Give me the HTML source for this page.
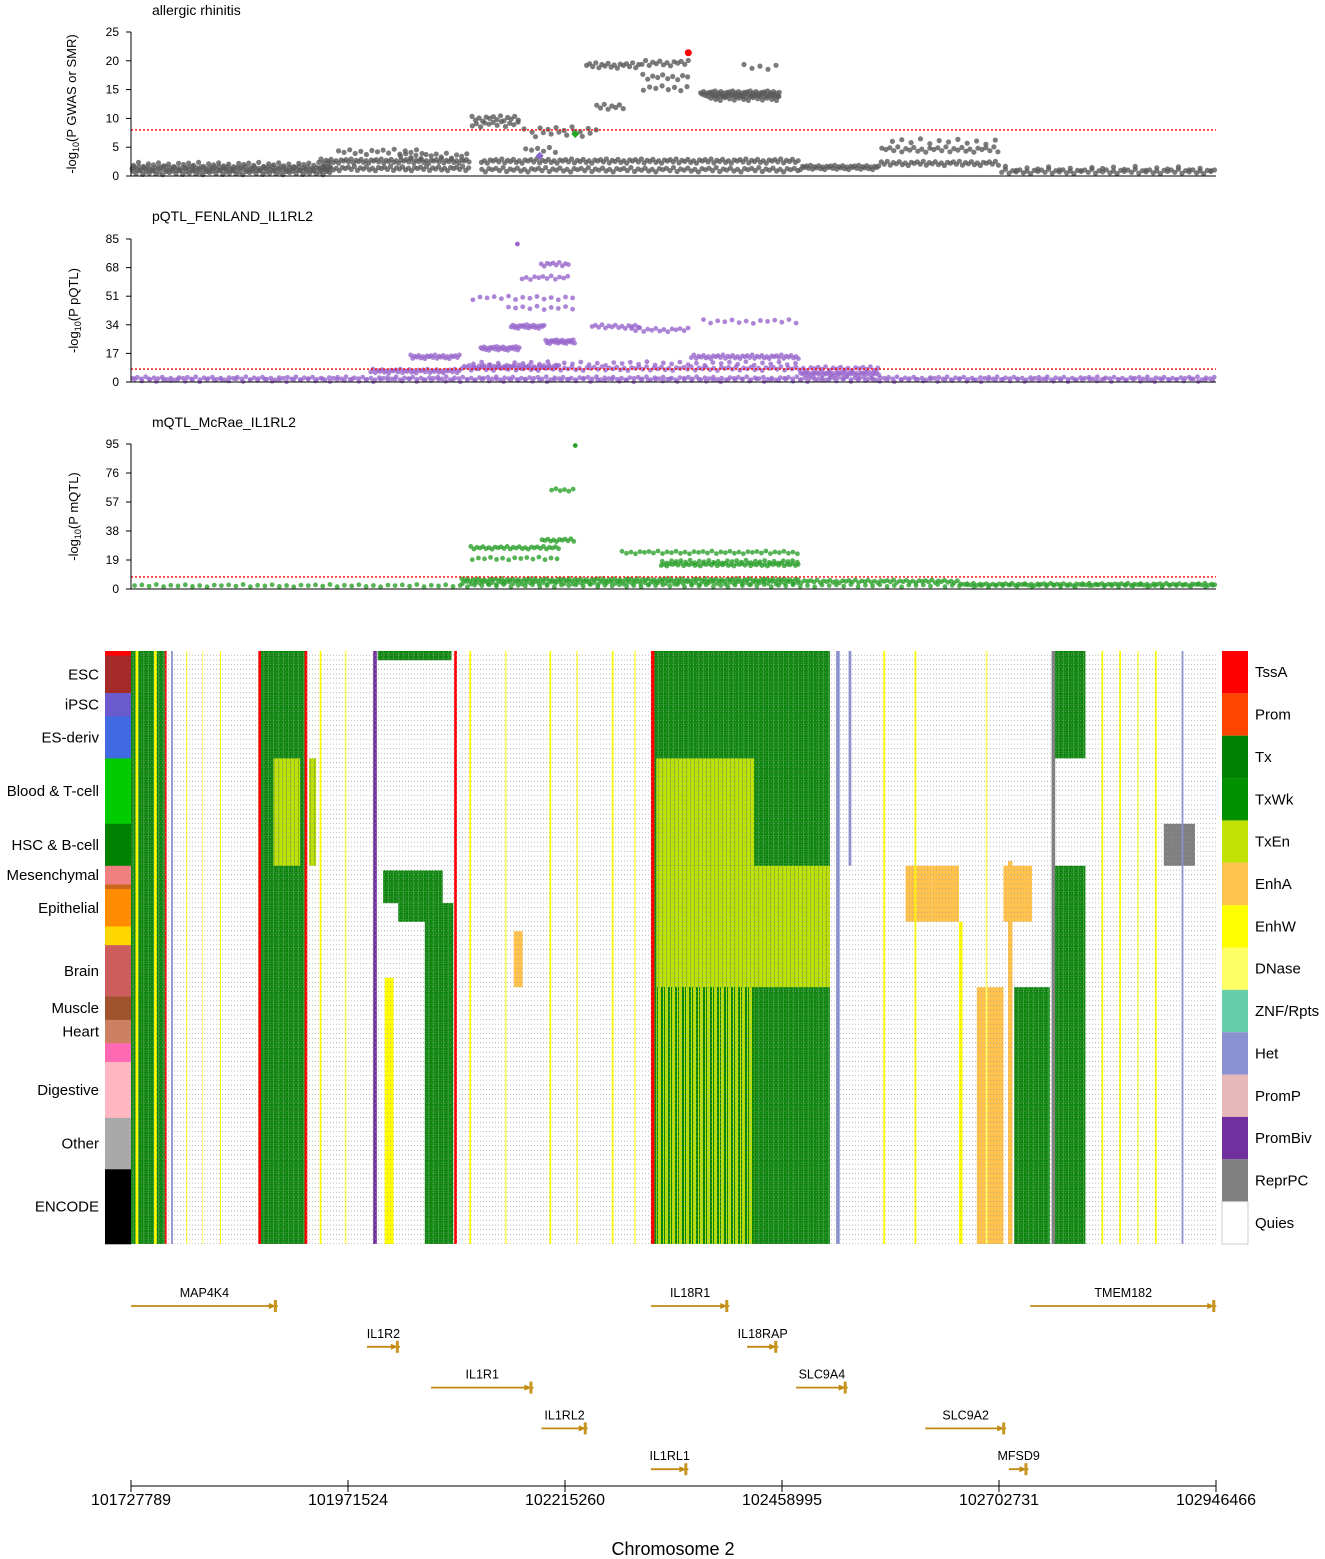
<!DOCTYPE html>
<html><head><meta charset="utf-8"><style>
body{margin:0;background:#fff;}
svg{display:block;font-family:"Liberation Sans",sans-serif;}
</style></head><body>
<svg id="chart" width="1325" height="1559" viewBox="0 0 1325 1559" xmlns="http://www.w3.org/2000/svg">
<defs>
<pattern id="rowdots" x="0" y="651" width="3" height="4.67" patternUnits="userSpaceOnUse">
<rect x="0" y="4" width="1" height="0.7" fill="#9a9a9a"/>
</pattern>
<pattern id="txtex" x="0" y="0" width="5" height="4.67" patternUnits="userSpaceOnUse">
<rect width="5" height="4.67" fill="#0a860a"/>
<rect x="3" width="1" height="4.67" fill="#2f9e2f"/>
<rect y="3.9" width="5" height="0.77" fill="#3b8f3b"/>
</pattern>
<pattern id="txentex" x="0" y="0" width="4" height="4.67" patternUnits="userSpaceOnUse">
<rect width="4" height="4.67" fill="#c2e105"/>
<rect x="2" width="1" height="4.67" fill="#8fc01a"/>
</pattern>
<pattern id="mixtex" x="0" y="0" width="7" height="4.67" patternUnits="userSpaceOnUse">
<rect width="7" height="4.67" fill="#0a860a"/>
<rect x="0" width="3" height="4.67" fill="#b8dc10"/>
<rect x="5" width="1" height="4.67" fill="#c2e105"/>
</pattern>
</defs>
<g id="plots"></g>
</svg>
<script>
// ---------- data ----------
const regionStart = 101727789, regionEnd = 102946466; // bp
const xTickPos = [101727789,101971524,102215260,102458995,102702731,102946466];

// scatter runs: [startKb, endKb, value, count] (kb offset from regionStart)
const gwasRuns = [[0,225,1.3,90],[0,225,0.6,60],[0,225,2.0,40],[212,381,2.6,60],[212,381,1.3,50],[230,330,4.2,16],[300,380,3.5,14],
[381,437,10.0,14],[381,437,9.0,12],[437,527,8.1,10],[450,520,7.3,8],[440,480,4.5,6],[510,572,19.2,18],[521,555,12.0,8],[572,628,19.6,14],[572,628,17.2,10],[572,628,15.3,8],
[639,729,14.3,55],[650,729,13.6,30],[684,729,19.0,5],[392,751,2.6,110],[392,751,1.1,90],[751,841,1.5,40],[841,976,4.6,30],[850,976,6.0,12],[841,976,2.2,40],[976,1219,0.8,60],[976,1219,1.3,20]];
const gwasLead = [626, 21.4];
const gwasSnp2 = [499, 7.3];
const gwasSnp3 = [459, 3.5];
const gwasThresh = 8.0;

const pqtlRuns = [[0,1219,2.2,260],[0,1219,1.0,150],[268,370,6.5,40],[313,370,15,25],[370,482,9,40],[392,437,20,25],[426,465,33,20],[465,499,24,22],
[437,493,62,12],[459,493,70,10],[380,500,50,15],[420,500,44,10],[516,572,33,15],[560,628,31,15],[628,751,15,45],[639,751,36,14],[380,841,8,110],[751,841,5,40],[380,751,11,40]];
const pqtlTop = [434, 82];
const pqtlThresh = 7.7;

const mqtlRuns = [[0,1219,2.2,150],[370,751,6,120],[370,751,4,80],[380,482,27,30],[380,482,20,15],[460,499,32,12],[470,499,65,6],[549,751,24,40],[594,751,16,50],[594,751,18,30],[751,930,5,50],[930,1219,3,80]];
const mqtlTop = [499, 94];
const mqtlThresh = 7.9;

// heatmap bands: [startKb, endKb, rowStart, rowEnd, state]
const hmBands = [
[0,38,0,127,'Tx'],[5,8,0,127,'EnhW'],[26,29,0,127,'EnhW'],[38,40,0,127,'TssA'],[45,47,0,127,'Het'],[62,63,0,127,'EnhW'],[80,81,0,127,'DNase'],[100,101,0,127,'EnhW'],
[143,146,0,127,'TssA'],[146,195,0,127,'Tx'],[160,190,23,46,'TxEn'],[195,198,0,127,'TssA'],[200,208,23,46,'TxEn'],[212,214,0,127,'EnhW'],[240,242,0,127,'DNase'],
[272,276,0,127,'PromBiv'],[277,360,0,2,'Tx'],[283,350,47,54,'Tx'],[300,340,54,58,'Tx'],[330,362,54,127,'Tx'],[285,295,70,127,'EnhW'],[363,366,0,127,'TssA'],
[380,382,0,127,'EnhW'],[420,422,0,127,'DNase'],[430,440,60,72,'EnhA'],[470,472,0,127,'EnhW'],[500,502,0,127,'DNase'],[540,542,0,127,'EnhW'],[565,567,0,127,'DNase'],
[584,588,0,127,'TssA'],[588,785,0,127,'Tx'],[590,700,23,46,'TxEn'],[590,785,46,72,'TxEn'],[590,700,72,127,'Mix'],
[792,796,0,127,'Het'],[806,809,0,46,'Het'],[845,847,0,127,'EnhW'],[870,900,46,58,'EnhA'],[880,882,0,127,'EnhW'],[900,930,46,58,'EnhA'],[930,934,58,127,'EnhW'],[950,980,72,127,'EnhA'],[960,962,0,127,'DNase'],
[985,990,45,127,'EnhA'],[992,1032,72,127,'Tx'],[980,1012,46,58,'EnhA'],[1034,1038,0,127,'ReprPC'],[1038,1072,46,127,'Tx'],[1038,1072,0,23,'Tx'],
[1090,1092,0,127,'EnhW'],[1110,1112,0,127,'EnhW'],[1130,1132,0,127,'DNase'],[1160,1195,37,46,'ReprPC'],[1150,1152,0,127,'EnhW'],[1180,1182,0,127,'Het']];

const stateNames = ['TssA','Prom','Tx','TxWk','TxEn','EnhA','EnhW','DNase','ZNF/Rpts','Het','PromP','PromBiv','ReprPC','Quies'];
const stateColors = ['#ff0000','#ff4500','#008000','#009000','#c2e105','#ffc34d','#ffff00','#ffff66','#66cdaa','#8a91d0','#e6b8b7','#7030a0','#808080','#ffffff'];

const groupNames = ['','ESC','iPSC','ES-deriv','Blood & T-cell','HSC & B-cell','Mesenchymal','','Epithelial','','Brain','Muscle','Heart','','Digestive','Other','ENCODE'];
const groupRows = [[0,1],[1,9],[9,14],[14,23],[23,37],[37,46],[46,50],[50,51],[51,59],[59,63],[63,74],[74,79],[79,84],[84,88],[88,100],[100,111],[111,127]];
const groupColors = ['#ff0000','#a52a2a','#6a5acd','#4169e1','#00cc00','#008000','#f08080','#cd661d','#ff8c00','#ffd700','#cd5c5c','#a0522d','#cd8162','#ff69b4','#ffb6c1','#a9a9a9','#000000'];

// genes: name, startKb, endKb, row
const geneNames = ['MAP4K4','IL18R1','TMEM182','IL1R2','IL18RAP','IL1R1','SLC9A4','IL1RL2','SLC9A2','IL1RL1','MFSD9'];
const geneStart = [0,584,1010,265,692,337,747,461,892,584,986];
const geneEnd = [165,672,1219,302,727,452,805,513,983,626,1008];
const geneRow = [0,0,0,1,1,2,2,3,3,4,4];

// ---------- helpers ----------
const NS='http://www.w3.org/2000/svg';
const root=document.getElementById('plots');
const X0=131, X1=1216;
const spanKb=(regionEnd-regionStart)/1000;
function xKb(kb){return X0+kb/spanKb*(X1-X0);}
function xBp(bp){return X0+(bp-regionStart)/(regionEnd-regionStart)*(X1-X0);}
function mk(tag,attrs,parent){const e=document.createElementNS(NS,tag);for(const k in attrs)e.setAttribute(k,attrs[k]);(parent||root).appendChild(e);return e;}
const jit=[0.0,0.6,-0.4,0.9,-0.8,0.3,-0.2,0.7,-0.6,0.15,-0.95,0.45];

function panel(cfg){
  const g=mk('g',{});
  
  
  const y=v=>cfg.y0-(v/cfg.max)*(cfg.y0-cfg.yTop);
  const t=mk('text',{x:152,y:cfg.titleY,'font-size':14,fill:'#000'},g);t.textContent=cfg.title;
  
  const yt=mk('text',{x:0,y:0,'font-size':13,'text-anchor':'middle',transform:`translate(${cfg.labelX},${(cfg.y0+cfg.yTop)/2}) rotate(-90)`},g);
  yt.innerHTML=cfg.ylab;
  
  const pg=mk('g',{fill:cfg.color,'fill-opacity':0.8},g);
  
  cfg.runs.forEach((r,ri)=>{
    const n=r[3];
    for(let i=0;i<n;i++){
      const kb=r[0]+(r[1]-r[0])*((i+0.5)/n);
      const v=Math.max(0.1,r[2]+jit[(i+ri)%jit.length]*cfg.spread*(r[2]>3?1:0.8));
      mk('circle',{cx:xKb(kb).toFixed(1),cy:y(v).toFixed(1),r:cfg.r},pg);
    }
  });
  if(cfg.top){mk('circle',{cx:xKb(cfg.top[0]),cy:y(cfg.top[1]),r:cfg.r,fill:cfg.color},g);}
  const th=mk('line',{x1:X0,x2:X1,y1:y(cfg.thresh),y2:y(cfg.thresh),stroke:'#ff0000','stroke-width':1.3,'stroke-dasharray':'2,2'},g);
  
  mk('line',{x1:X0,x2:X0,y1:cfg.yTop,y2:cfg.y0,stroke:'#000'},g);
  mk('line',{x1:X0,x2:X1,y1:cfg.y0,y2:cfg.y0,stroke:'#000'},g);
  cfg.ticks.forEach(tv=>{
    mk('line',{x1:X0-5,x2:X0,y1:y(tv),y2:y(tv),stroke:'#000'},g);
    const tl=mk('text',{x:X0-12,y:y(tv)+4,'font-size':12,'text-anchor':'end'},g);tl.textContent=tv;
    
  });
  return {g,y};
}

const p1=panel({name:'gwas-panel',title:'allergic rhinitis',titleY:15,y0:176,yTop:32,max:25,ticks:[0,5,10,15,20,25],labelX:76,
  ylab:'-log<tspan font-size="9" dy="3">10</tspan><tspan dy="-3">(P GWAS or SMR)</tspan>',runs:gwasRuns,color:'#5a5a5a',r:2.6,spread:0.5,thresh:gwasThresh});
{
  const c=mk('circle',{cx:xKb(gwasLead[0]),cy:p1.y(gwasLead[1]),r:3.5,fill:'#ff0000'},p1.g);
  
  const d1x=xKb(gwasSnp2[0]),d1y=p1.y(gwasSnp2[1]);
  const d1=mk('polygon',{points:`${d1x},${d1y-4} ${d1x+4},${d1y} ${d1x},${d1y+4} ${d1x-4},${d1y}`,fill:'#22aa22'},p1.g);
  
  const d2x=xKb(gwasSnp3[0]),d2y=p1.y(gwasSnp3[1]);
  const d2=mk('polygon',{points:`${d2x},${d2y-4} ${d2x+4},${d2y} ${d2x},${d2y+4} ${d2x-4},${d2y}`,fill:'#8866cc'},p1.g);
  
}
panel({name:'pqtl-panel',title:'pQTL_FENLAND_IL1RL2',titleY:221,y0:382,yTop:239,max:85,ticks:[0,17,34,51,68,85],labelX:78,
  ylab:'-log<tspan font-size="9" dy="3">10</tspan><tspan dy="-3">(P pQTL)</tspan>',runs:pqtlRuns,color:'#9966cc',r:2.4,spread:1.2,thresh:pqtlThresh,top:pqtlTop});
panel({name:'mqtl-panel',title:'mQTL_McRae_IL1RL2',titleY:427,y0:589,yTop:444,max:95,ticks:[0,19,38,57,76,95],labelX:78,
  ylab:'-log<tspan font-size="9" dy="3">10</tspan><tspan dy="-3">(P mQTL)</tspan>',runs:mqtlRuns,color:'#2ca02c',r:2.4,spread:1.0,thresh:mqtlThresh,top:mqtlTop});

// ---------- heatmap ----------
const HY0=651, RH=593/127;
const hm=mk('g',{});


mk('rect',{x:X0,y:HY0,width:X1-X0,height:593,fill:'#fff'},hm);
hmBands.forEach(b=>{
  const si=stateNames.indexOf(b[4]);
  let fill=stateColors[si];
  if(b[4]==='Tx')fill='url(#txtex)';
  if(b[4]==='TxEn')fill='url(#txentex)';
  if(b[4]==='Mix')fill='url(#mixtex)';
  const r=mk('rect',{x:xKb(b[0]).toFixed(1),y:(HY0+b[2]*RH).toFixed(1),width:Math.max(1,xKb(b[1])-xKb(b[0])).toFixed(1),height:((b[3]-b[2])*RH).toFixed(1),fill:fill},hm);
  
  
});
mk('rect',{x:X0,y:HY0,width:X1-X0,height:593,fill:'url(#rowdots)'},hm);
groupRows.forEach((gr,i)=>{
  const r=mk('rect',{x:105,y:HY0+gr[0]*RH,width:26,height:(gr[1]-gr[0])*RH+0.3,fill:groupColors[i]},hm);
  
  if(groupNames[i]){
    let cy=HY0+(gr[0]+gr[1])/2*RH+5;
    if(groupNames[i]==='Mesenchymal')cy=880;
    if(groupNames[i]==='Epithelial')cy=913;
    const t=mk('text',{x:99,y:cy,'font-size':15,'text-anchor':'end'},hm);t.textContent=groupNames[i];
    
  }
});
const LH=593/14;
stateNames.forEach((s,i)=>{
  const r=mk('rect',{x:1222,y:HY0+i*LH,width:26,height:LH,fill:stateColors[i],stroke:s==='Quies'?'#ccc':'none'},hm);
  
  const t=mk('text',{x:1255,y:HY0+i*LH+LH/2+5,'font-size':15},hm);t.textContent=s;
  
});

// ---------- genes ----------
const gg=mk('g',{});


geneNames.forEach((n,i)=>{
  const y=1306+geneRow[i]*40.8;
  const x1=xKb(geneStart[i]),x2=xKb(geneEnd[i]);
  const l=mk('line',{x1:x1,x2:x2,y1:y,y2:y,stroke:'#c08a10','stroke-width':1.8},gg);
  
  mk('polygon',{points:`${x2-9},${y-3} ${x2-2},${y} ${x2-9},${y+3}`,fill:'#c08a10'},gg);
  mk('rect',{x:x2-4,y:y-6,width:3,height:12,fill:'#c8961f'},gg);
  const t=mk('text',{x:(x1+x2)/2,y:y-9,'font-size':12.5,'text-anchor':'middle'},gg);t.textContent=n;
  
});

// ---------- x axis ----------
const xa=mk('g',{});


mk('line',{x1:X0,x2:X1,y1:1486,y2:1486,stroke:'#000'},xa);
xTickPos.forEach(p=>{
  mk('line',{x1:xBp(p),x2:xBp(p),y1:1480,y2:1492,stroke:'#000'},xa);
  const t=mk('text',{x:xBp(p),y:1505,'font-size':16,'text-anchor':'middle'},xa);t.textContent=p;
  
});
const xt=mk('text',{x:673,y:1555,'font-size':18,'text-anchor':'middle'},xa);xt.textContent='Chromosome 2';

</script>
</body></html>
